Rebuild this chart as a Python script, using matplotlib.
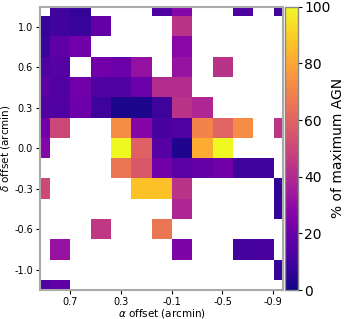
import numpy as np
import matplotlib
matplotlib.use('Agg')
from matplotlib import pyplot as plt

N = np.nan

# % of maximum AGN per cell, rows top to bottom, columns left to right
agn = np.array([
    [N, 10, 7, N, N, N, 13, 27, N, N, 13, N, 10],
    [7, 10, 8, 18, N, N, N, 43, N, N, N, N, N],
    [8, 17, 22, N, N, N, N, 28, N, N, N, N, N],
    [13, 15, N, 22, 20, 31, N, 32, N, 43, N, N, N],
    [17, 14, 22, 14, 14, 20, 41, 41, N, N, N, N, N],
    [14, 14, 21, 9, 2, 2, 9, 43, 39, N, N, N, N],
    [22, 50, N, N, 73, 27, 12, 14, 70, 60, 73, N, 44],
    [27, N, N, N, 100, 59, 15, 3, 82, 100, N, N, N],
    [N, N, N, N, 66, 56, 22, 16, 19, 22, 10, 10, N],
    [51, N, N, N, N, 87, 87, 43, N, N, N, N, 6],
    [N, N, N, N, N, N, N, 39, N, N, N, N, 7],
    [N, N, N, 45, N, N, 66, N, N, N, N, N, N],
    [N, 32, N, N, N, N, N, 25, N, N, 11, 12, N],
    [N, N, N, N, N, N, N, N, N, N, N, N, 7],
    [13, 17, N, N, N, N, N, N, N, N, N, N, N],
])

x_ticks = [1.5, 4.0, 6.5, 9.0, 11.5]
x_labels = ['0.7', '0.3', '-0.1', '-0.5', '-0.9']
y_ticks = [1, 3, 5, 7, 9, 11, 13]
y_labels = ['1.0', '0.6', '0.3', '0.0', '-0.3', '-0.6', '-1.0']
cbar_ticks = [0, 20, 40, 60, 80, 100]

fig = plt.figure(figsize=(3.45, 3.19), dpi=100)
ax = fig.add_axes([0.1159, 0.0909, 0.7053, 0.8881])
cax = fig.add_axes([0.8275, 0.0909, 0.036, 0.8881])

nrow, ncol = agn.shape
im = ax.imshow(agn, cmap='plasma', vmin=0, vmax=100, interpolation='nearest',
               extent=(-0.5, ncol - 0.5, nrow - 0.5, -0.5), aspect='auto')
ax.set_xlim(0, 12)
ax.set_ylim(14, 0)

ax.set_xticks(x_ticks)
ax.set_xticklabels(x_labels)
ax.set_yticks(y_ticks)
ax.set_yticklabels(y_labels)
ax.tick_params(labelsize=7, length=3, width=0.8, pad=2)
ax.set_xlabel(r'$\alpha$ offset (arcmin)', fontsize=7.5, labelpad=0)
ax.set_ylabel(r'$\delta$ offset (arcmin)', fontsize=7.5, labelpad=2)
for s in ax.spines.values():
    s.set_color('#aaaaaa')
    s.set_linewidth(1.5)

cb = fig.colorbar(im, cax=cax, ticks=cbar_ticks)
cb.outline.set_edgecolor('#888888')
cb.outline.set_linewidth(1.0)
cb.ax.tick_params(labelsize=10, length=3, width=0.8, pad=1.5)
cb.set_label('% of maximum AGN', fontsize=10, labelpad=0)

fig.savefig('out.png', dpi=100)
